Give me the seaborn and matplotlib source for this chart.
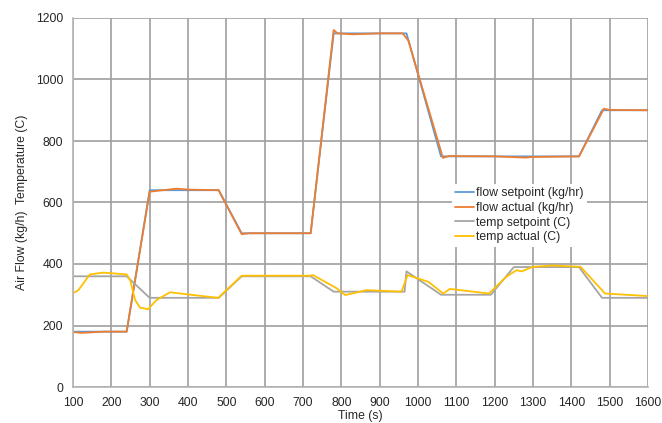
import matplotlib
matplotlib.use('Agg')
import matplotlib.pyplot as plt
import seaborn as sns
import pandas as pd

# --- data --- #
flow_sp_t = [100, 240, 300, 480, 540, 720, 780, 970, 1060, 1420, 1480, 1600]
flow_sp_v = [180, 180, 640, 640, 500, 500, 1150, 1150, 750, 750, 900, 900]

flow_act_t = [100, 120, 140, 180, 240, 300, 320, 370, 400, 480, 540, 560, 720,
              780, 790, 830, 900, 960, 975, 1065, 1080, 1200, 1280, 1300, 1420,
              1485, 1500, 1600]
flow_act_v = [179, 176, 177, 180, 180, 635, 638, 645, 642, 640, 497, 500, 500,
              1161, 1150, 1147, 1150, 1150, 1126, 745, 751, 750, 746, 748, 750,
              905, 901, 900]

temp_sp_t = [100, 240, 300, 480, 540, 720, 780, 965, 970, 1060, 1190, 1250,
             1420, 1480, 1600]
temp_sp_v = [360, 360, 290, 290, 360, 360, 310, 310, 376, 300, 300, 390,
             390, 290, 290]

temp_act_t = [100, 114, 144, 179, 240, 249, 262, 275, 296, 318, 353, 414, 479,
              540, 718, 726, 788, 810, 849, 866, 957, 973, 1027, 1066, 1083,
              1185, 1231, 1257, 1270, 1300, 1353, 1424, 1488, 1597]
temp_act_v = [305, 315, 366, 372, 366, 348, 283, 258, 253, 283, 308, 299, 290,
              362, 362, 364, 321, 299, 310, 315, 310, 364, 342, 304, 319,
              304, 359, 380, 376, 391, 395, 391, 304, 296]

names = ['flow setpoint (kg/hr)', 'flow actual (kg/hr)',
         'temp setpoint (C)', 'temp actual (C)']
colors = ['#5B9BD5', '#ED7D31', '#A5A5A5', '#FFC000']


def build_frame():
    parts = []
    for name, t, v in zip(names, [flow_sp_t, flow_act_t, temp_sp_t, temp_act_t],
                          [flow_sp_v, flow_act_v, temp_sp_v, temp_act_v]):
        parts.append(pd.DataFrame({'time': t, 'value': v, 'series': name}))
    return pd.concat(parts, ignore_index=True)


df = build_frame()

sns.set_style('white')
plt.rcParams['font.family'] = ['Liberation Sans', 'DejaVu Sans']

fig = plt.figure(figsize=(6.62, 4.23), dpi=100)
ax = fig.add_axes([73 / 662, 1 - 387 / 423, 575 / 662, 369 / 423])

sns.lineplot(data=df, x='time', y='value', hue='series', hue_order=names,
             palette=colors, estimator=None, sort=False, linewidth=1.3, ax=ax)

ax.set_xlim(100, 1600)
ax.set_ylim(0, 1200)
ax.set_xticks(range(100, 1601, 100))
ax.set_yticks(range(0, 1201, 200))
ax.grid(True, color='#9E9E9E', linewidth=1.2)
ax.set_axisbelow(True)
for side in ['top', 'right']:
    ax.spines[side].set_visible(False)
for side in ['left', 'bottom']:
    ax.spines[side].set_color('#B4B4B4')
    ax.spines[side].set_linewidth(1.2)
ax.tick_params(axis='both', labelsize=8.8, length=4, color='#B4B4B4',
               width=1.0, direction='out', pad=3)

ax.set_xlabel('Time (s)', fontsize=8.8, labelpad=1)
ax.set_ylabel('Air Flow (kg/h)  Temperature (C)', fontsize=8.8, labelpad=6)

leg = ax.legend(loc='upper left', bbox_to_anchor=(0.648, 0.568), fontsize=8.8,
                frameon=True, fancybox=False, framealpha=1, edgecolor='white',
                handlelength=1.55, handletextpad=0.1, labelspacing=0.22,
                borderpad=0.3)
leg.get_frame().set_linewidth(0)

fig.savefig('out.png', dpi=100)
